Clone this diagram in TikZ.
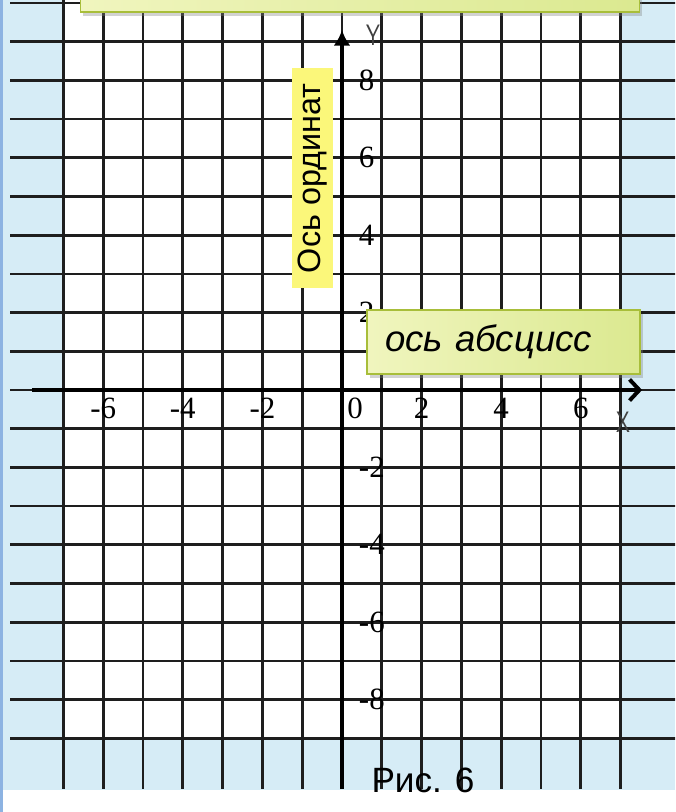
\documentclass[tikz,border=0pt]{standalone}
\usepackage{fontspec}
\setmainfont{Liberation Serif}
\newfontfamily\arialfont{Liberation Sans}
\usetikzlibrary{arrows.meta,shadows}
\definecolor{bluebar}{RGB}{141,179,226}
\definecolor{paleblue}{RGB}{214,236,246}
\definecolor{gridgray}{RGB}{30,30,30}
\definecolor{boxleft}{RGB}{240,245,190}
\definecolor{boxright}{RGB}{219,233,144}
\definecolor{boxedge}{RGB}{168,190,58}
\definecolor{labelyellow}{RGB}{251,247,122}
\tikzset{
  gridline/.style={line width=1.9pt, color=gridgray},
  axisline/.style={line width=2.8pt, color=black},
  ticklabel/.style={font=\fontsize{22}{22}\selectfont, inner sep=0pt},
  axisname/.style={font=\sffamily\fontsize{21}{21}\selectfont, color=black!75, xscale=0.75, inner sep=0pt},
  calloutbox/.style={draw=boxedge, line width=1.4pt, left color=boxleft, right color=boxright,
    drop shadow={opacity=0.35, shadow xshift=2pt, shadow yshift=-3pt}}
}

\begin{document}
\begin{tikzpicture}[x=0.995cm,y=0.9675cm]
\useasboundingbox (-8.593,-10.904) rectangle (8.367,10.078);
\clip (-8.593,-10.904) rectangle (8.367,10.078);
\fill[white] (-8.593,-10.904) rectangle (8.367,10.078);
\fill[paleblue] (-8.518,-10.336) rectangle (8.367,10.078);
\fill[white] (-7,-9) rectangle (7,10.078);
\fill[bluebar] (-8.593,-10.904) rectangle (-8.518,10.078);

\foreach \gx in {-7,...,7}
  \draw[gridline] (\gx,10.1) -- (\gx,-10.31);
\foreach \gy in {-9,...,10}
  \draw[gridline] (-8.34,\gy) -- (8.4,\gy);

\coordinate (xstart) at (-7.79,0);
\coordinate (xend) at (7.54,0);
\coordinate (ystart) at (0,-10.31);
\coordinate (yend) at (0,9.3);
\draw[axisline,-{Straight Barb[length=7pt,width=15pt]}] (xstart) -- (xend);
\draw[axisline,-{Latex[length=11pt,width=12pt]}] (ystart) -- (yend);

\foreach \v [count=\i] in {-6,-4,-2,2,4,6}
  \node[ticklabel] (xtick\i) at (\v,-0.47) {\v};
\node[ticklabel] (origin) at (0.33,-0.47) {0};
\foreach \v [count=\i] in {8,6,4,2,-2,-4,-6,-8}
  \node[ticklabel,anchor=west] (ytick\i) at (0.42,\v) {\v};

\node[axisname] (ylab) at (0.78,9.17) {Y};
\node[axisname] (xlab) at (7.06,-0.83) {X};

\node[fill=labelyellow, rotate=90, minimum width=5.5cm, minimum height=1.025cm, inner sep=0pt,
  font=\arialfont\fontsize{23}{23}\selectfont] (ordinate) at (-0.741,5.468) {Ось ординат};
\node[calloutbox, text width=5.925cm, inner xsep=0.45cm, inner ysep=0pt, minimum height=1.6cm, align=left,
  font=\arialfont\itshape\fontsize{26}{26}\selectfont] (abscissa) at (4.058,1.24) {ось абсцисс};
\node[calloutbox, minimum width=13.975cm, minimum height=2.16cm] (topbox) at (0.452,10.88) {};

\node[anchor=base, font=\arialfont\fontsize{25}{25}\selectfont] (caption) at (2.035,-10.41) {Рис. 6};
\end{tikzpicture}
\end{document}
